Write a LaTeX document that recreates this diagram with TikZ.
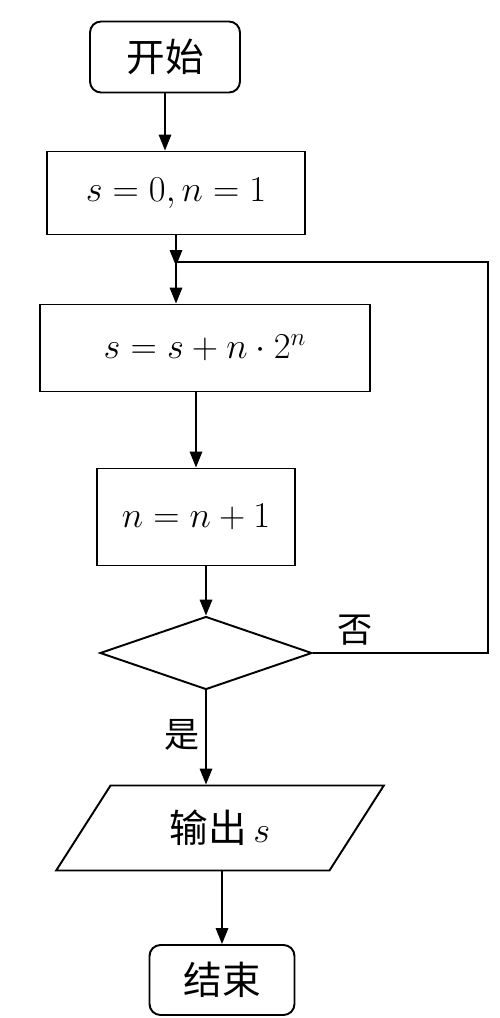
\documentclass[tikz,border=0pt]{standalone}
\usepackage{fontspec}
\newfontfamily\cjk{Noto Sans CJK SC}
\usetikzlibrary{shapes.geometric,arrows.meta}
\begin{document}
\begin{tikzpicture}[x=0.02cm,y=-0.02cm,
  line width=1.1pt,
  every node/.style={inner sep=0pt},
  txt/.style={font=\fontsize{21}{25}\selectfont},
  cjktxt/.style={font=\cjk\fontsize{22}{26}\selectfont},
  term/.style={draw,rounded corners=0.22cm,cjktxt},
  procbox/.style={draw,txt},
  decision/.style={draw,diamond,minimum width=4.24cm,minimum height=1.46cm},
  io/.style={draw,trapezium,trapezium left angle=55,trapezium right angle=125,
    trapezium stretches=true,minimum width=6.6cm,minimum height=1.7cm,cjktxt},
  arr/.style={-{Triangle[length=9pt,width=7pt]}},
  lbl/.style={font=\cjk\fontsize{20}{24}\selectfont}
]
\useasboundingbox (0,0) rectangle (500,1018);
\node[term,minimum width=3.0cm,minimum height=1.42cm] (start) at (165,57) {开始};
\node[procbox,minimum width=5.16cm,minimum height=1.66cm] (init) at (176,193) {$s=0,n=1$};
\node[procbox,minimum width=6.6cm,minimum height=1.74cm] (sum) at (205,348) {$s=s+n\cdot 2^{n}$};
\node[procbox,minimum width=3.96cm,minimum height=1.94cm] (inc) at (196,517) {$n=n+1$};
\node[decision] (cond) at (206,653) {};
\node[io] (out) at (220,828) {输出\,$s$};
\node[term,minimum width=2.9cm,minimum height=1.4cm] (end) at (222,980) {结束};

\coordinate (merge) at (init.south |- 0,266);
\coordinate (c1) at (488,0 |- cond.east);
\coordinate (c2) at (488,262);

\draw[arr] (start.south) -- (start.south |- init.north);
\draw[arr] (init.south) -- (init.south |- sum.north);
\draw[arr] (inc.north |- sum.south) -- (inc.north);
\draw[arr] (cond.north |- inc.south) -- (cond.north);
\draw[arr] (cond.south) -- (cond.south |- out.north);
\draw[arr] (end.north |- out.south) -- (end.north);
\draw[arr] (cond.east) -- (c1) -- (c2) -- (c2 -| merge) -- (merge);

\node[lbl] (no) at (355,630) {否};
\node[lbl] (yes) at (182,735) {是};
\end{tikzpicture}
\end{document}
